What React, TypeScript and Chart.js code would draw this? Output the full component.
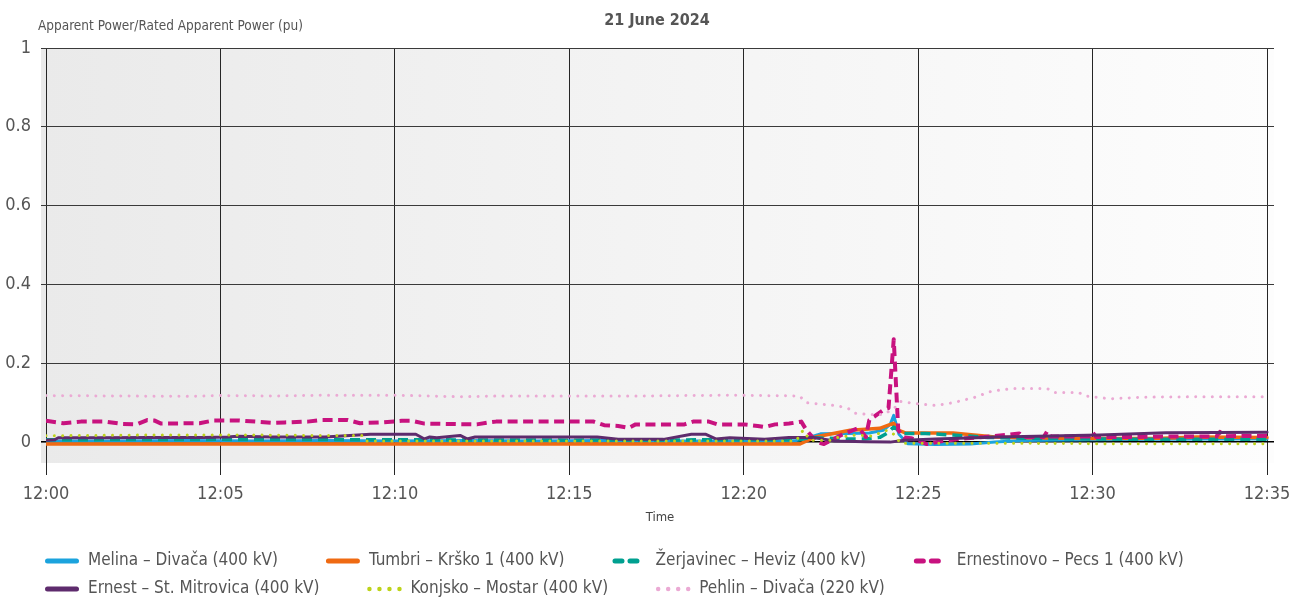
import React, { useEffect, useRef } from 'react';
import { Chart, registerables } from 'chart.js';

Chart.register(...registerables);

const FONT = "'Liberation Sans Narrow', 'DejaVu Sans Condensed', Roboto, sans-serif";

// ---- texts ----
const chartTitle = '21 June 2024';
const yAxisTitle = 'Apparent Power/Rated Apparent Power (pu)';
const xAxisTitle = 'Time';
const seriesNames = [
  'Melina – Divača (400 kV)',
  'Tumbri – Krško 1 (400 kV)',
  'Žerjavinec – Heviz (400 kV)',
  'Ernestinovo – Pecs 1 (400 kV)',
  'Ernest – St. Mitrovica (400 kV)',
  'Konjsko – Mostar (400 kV)',
  'Pehlin – Divača (220 kV)',
];

// ---- ticks (minutes after 12:00, pu) ----
const xTickMinutes = [0, 5, 10, 15, 20, 25, 30, 35];
const yTickValues = [0, 0.2, 0.4, 0.6, 0.8, 1];

// ---- series data: [minutes after 12:00, pu] ----
const melina = [
  [0, 0.003], [2, 0.003], [4, 0.004], [6, 0.003], [8, 0.004], [10, 0.003], [12, 0.004],
  [14, 0.003], [16, 0.004], [18, 0.003], [20, 0.003], [21.5, 0.004], [21.8, 0.01],
  [22.2, 0.021], [23, 0.022], [23.6, 0.023], [24.0, 0.03], [24.2, 0.045], [24.3, 0.068],
  [24.45, 0.02], [24.7, -0.004], [25.5, -0.006], [26.5, -0.005], [27.2, 0.0], [28, 0.004],
  [30, 0.006], [32, 0.007], [34, 0.008], [35, 0.008],
];
const tumbri = [
  [0, -0.005], [5, -0.005], [10, -0.005], [15, -0.005], [20, -0.005], [21.6, -0.005],
  [22.05, 0.013], [23.05, 0.03], [23.6, 0.033], [23.9, 0.035], [24.3, 0.048], [24.45, 0.03],
  [24.65, 0.023], [26.0, 0.023], [26.6, 0.018], [27.2, 0.013], [28, 0.011], [30, 0.009],
  [32, 0.01], [33, 0.013], [35, 0.012],
];
const zerjavinec = [
  [0, 0.006], [5, 0.007], [10, 0.006], [15, 0.005], [20, 0.006], [21.6, 0.006], [21.9, 0.012],
  [22.3, 0.01], [23.0, 0.008], [23.5, 0.008], [23.9, 0.012], [24.1, 0.022], [24.3, 0.038],
  [24.6, 0.022], [25.2, 0.022], [26.0, 0.018], [27.0, 0.012], [28, 0.01], [30, 0.008],
  [32, 0.007], [35, 0.007],
];
const ernestinovo = [
  [0, 0.054], [0.5, 0.048], [1.0, 0.052], [1.7, 0.052], [2.2, 0.046], [2.6, 0.045],
  [2.9, 0.056], [3.1, 0.055], [3.3, 0.047], [4.4, 0.048], [4.8, 0.055], [5.5, 0.055],
  [6.0, 0.052], [6.5, 0.049], [6.85, 0.05], [7.5, 0.052], [7.9, 0.056], [8.65, 0.056],
  [9.0, 0.048], [9.6, 0.05], [10.2, 0.054], [10.5, 0.054], [10.85, 0.047], [12.35, 0.045],
  [12.7, 0.05], [12.9, 0.052], [15.7, 0.052], [16.0, 0.043], [16.4, 0.041], [16.7, 0.036],
  [16.9, 0.045], [18.3, 0.045], [18.55, 0.052], [19.0, 0.052], [19.25, 0.045], [20.0, 0.045],
  [20.4, 0.041], [20.6, 0.038], [20.9, 0.045], [21.3, 0.047], [21.65, 0.052], [21.8, 0.03],
  [22.1, 0.0], [22.3, -0.005], [22.8, 0.018], [23.3, 0.036], [23.5, 0.013], [23.6, 0.056],
  [24.0, 0.081], [24.15, 0.086], [24.3, 0.261], [24.43, 0.03], [24.6, 0.012], [24.8, 0.01],
  [25.25, -0.005], [25.7, 0.003], [26.4, 0.01], [26.9, 0.013], [27.5, 0.018], [27.9, 0.022],
  [28.0, 0.013], [28.6, 0.013], [28.7, 0.028], [28.8, 0.014], [29.9, 0.014], [30.0, 0.025],
  [30.1, 0.013], [31.0, 0.013], [32.0, 0.014], [33.55, 0.014], [33.65, 0.026], [33.75, 0.015],
  [35, 0.016],
];
const ernest = [
  [0, 0.005], [0.25, 0.006], [0.35, 0.011], [1.5, 0.011], [3, 0.012], [4.5, 0.012],
  [5.2, 0.013], [5.5, 0.015], [6.5, 0.013], [8, 0.013], [9.3, 0.02], [10.6, 0.02],
  [10.85, 0.008], [11.0, 0.013], [11.2, 0.011], [11.87, 0.017], [12.07, 0.008], [12.3, 0.013],
  [14.2, 0.013], [15.8, 0.013], [16.4, 0.007], [17.7, 0.007], [18.5, 0.02], [18.9, 0.02],
  [19.2, 0.008], [19.6, 0.011], [20.6, 0.007], [21.3, 0.012], [22.0, 0.012], [22.6, 0.003],
  [23.5, 0.001], [24.2, 0.0], [24.6, 0.005], [25.5, 0.008], [27.3, 0.013], [30.2, 0.018],
  [32.1, 0.024], [35, 0.025],
];
const konjsko = [
  [0, 0.016], [3, 0.018], [6, 0.018], [7.5, 0.017], [9.1, 0.017], [9.2, 0.003], [12, 0.003],
  [15, 0.003], [18, 0.003], [21.5, 0.003], [21.7, 0.03], [21.9, 0.005], [22.5, 0.005],
  [22.7, 0.012], [23.2, 0.018], [23.7, 0.015], [23.9, 0.023], [24.1, 0.03], [24.3, 0.02],
  [24.5, -0.003], [26, -0.003], [28, -0.003], [30, -0.004], [32, -0.004], [35, -0.004],
];
const pehlin = [
  [0, 0.118], [2, 0.117], [4, 0.116], [5, 0.118], [6.5, 0.117], [8, 0.119], [10, 0.119],
  [11.9, 0.115], [13, 0.117], [15, 0.117], [17, 0.117], [19.6, 0.119], [21.6, 0.117],
  [21.8, 0.1], [22.7, 0.092], [23.0, 0.085], [23.2, 0.073], [23.6, 0.07], [24.0, 0.07],
  [24.3, 0.085], [24.5, 0.103], [25.0, 0.097], [25.5, 0.093], [26.0, 0.1], [26.6, 0.113],
  [27.1, 0.129], [27.7, 0.136], [28.7, 0.136], [28.9, 0.126], [29.6, 0.126], [29.8, 0.117],
  [30.5, 0.11], [31.5, 0.114], [33, 0.115], [35, 0.115],
];

const seriesData = [melina, tumbri, zerjavinec, ernestinovo, ernest, konjsko, pehlin];

// ---- styles ----
type Style = {
  color: string; width: number; dash: number[]; cap: CanvasLineCap;
  legendDash: number[]; legendWidth: number; dotted: boolean;
};
const styles: Style[] = [
  { color: '#1ba3dd', width: 3, dash: [], cap: 'round', legendDash: [], legendWidth: 5, dotted: false },
  { color: '#ef6a12', width: 3.5, dash: [], cap: 'round', legendDash: [], legendWidth: 5, dotted: false },
  { color: '#00a090', width: 3.5, dash: [10, 6], cap: 'butt', legendDash: [7, 8], legendWidth: 5, dotted: false },
  { color: '#c8127f', width: 4, dash: [10, 5.5], cap: 'butt', legendDash: [7, 8], legendWidth: 5, dotted: false },
  { color: '#5e2b6d', width: 3, dash: [], cap: 'round', legendDash: [], legendWidth: 5, dotted: false },
  { color: '#bdd31a', width: 3, dash: [0.01, 8.3], cap: 'round', legendDash: [0.01, 10], legendWidth: 4.5, dotted: true },
  { color: '#ebaad4', width: 3, dash: [0.01, 8.3], cap: 'round', legendDash: [0.01, 10], legendWidth: 4.5, dotted: true },
];

const TEXT = '#555555';
const TICK_SIZE = 18;
const LEGEND_SIZE = 17;

const backgroundPlugin = {
  id: 'plotBackground',
  beforeDraw(chart: any) {
    const { ctx, chartArea } = chart;
    if (!chartArea) return;
    const left = chartArea.left - 5;
    const g = ctx.createLinearGradient(left, 0, chartArea.right, 0);
    g.addColorStop(0, '#eaeaea');
    g.addColorStop(1, '#fdfdfd');
    ctx.save();
    ctx.fillStyle = g;
    ctx.fillRect(left, chartArea.top, chartArea.right - left, chartArea.bottom - chartArea.top);
    ctx.restore();
  },
};

const textPlugin = {
  id: 'headerTexts',
  afterDraw(chart: any) {
    const { ctx, chartArea } = chart;
    ctx.save();
    ctx.textBaseline = 'middle';
    ctx.fillStyle = TEXT;
    ctx.textAlign = 'left';
    ctx.font = `13.5px ${FONT}`;
    ctx.fillText(yAxisTitle, 38, 26);
    ctx.textAlign = 'center';
    ctx.font = `bold 16px ${FONT}`;
    ctx.fillText(chartTitle, (chartArea.left + chartArea.right) / 2 - 3, 21);
    ctx.restore();
  },
};

const LEGEND_GAP = 48;
const legendPlugin = {
  id: 'lineLegend',
  afterDraw(chart: any) {
    const { ctx } = chart;
    const xs = chart.scales.x;
    const rowY = [xs.bottom + 32, xs.bottom + 60];
    ctx.save();
    ctx.font = `${LEGEND_SIZE}px ${FONT}`;
    ctx.textBaseline = 'middle';
    ctx.textAlign = 'left';
    let x = 45;
    let row = 0;
    chart.data.datasets.forEach((ds: any, i: number) => {
      if (i === 4) { row = 1; x = 45; }
      const st = styles[i];
      const y = rowY[row];
      ctx.beginPath();
      ctx.setLineDash(st.legendDash);
      ctx.lineCap = 'round';
      ctx.lineWidth = st.legendWidth;
      ctx.strokeStyle = st.color;
      if (st.dotted) {
        ctx.moveTo(x + 2, y);
        ctx.lineTo(x + 33, y);
      } else {
        ctx.moveTo(x + 2.5, y);
        ctx.lineTo(x + 31.5, y);
      }
      ctx.stroke();
      ctx.setLineDash([]);
      ctx.fillStyle = TEXT;
      ctx.fillText(ds.label, x + 43, y);
      x += 43 + ctx.measureText(ds.label).width + LEGEND_GAP;
    });
    ctx.restore();
  },
};

export default function App() {
  const ref = useRef<HTMLCanvasElement | null>(null);

  useEffect(() => {
    if (!ref.current) return;
    const datasets = seriesData.map((pts, i) => ({
      label: seriesNames[i],
      data: pts.map(([t, v]) => ({ x: t, y: v })),
      borderColor: styles[i].color,
      backgroundColor: styles[i].color,
      borderWidth: styles[i].width,
      borderDash: styles[i].dash,
      borderCapStyle: styles[i].cap,
      borderJoinStyle: 'round' as const,
      pointRadius: 0,
      tension: 0,
      fill: false,
      order: 7 - i,
    }));

    const chart = new Chart(ref.current, {
      type: 'line',
      data: { datasets },
      options: {
        animation: false,
        responsive: false,
        devicePixelRatio: 1,
        events: [],
        layout: { padding: { left: 0, right: 31, top: 48, bottom: 74 } },
        plugins: {
          legend: { display: false },
          tooltip: { enabled: false },
          title: { display: false },
        },
        scales: {
          x: {
            type: 'linear',
            min: 0,
            max: 35.2,
            afterBuildTicks: (scale: any) => {
              scale.ticks = xTickMinutes.map((v) => ({ value: v }));
            },
            afterFit: (scale: any) => { scale.height = 66; },
            border: { display: false },
            grid: { color: '#262626', lineWidth: 1, tickLength: 12, drawTicks: true },
            ticks: {
              autoSkip: false,
              maxRotation: 0,
              padding: 9,
              color: TEXT,
              font: { family: FONT, size: TICK_SIZE },
              callback: (v: any) => '12:' + String(v).padStart(2, '0'),
            },
            title: {
              display: true,
              text: xAxisTitle,
              color: '#444',
              font: { family: FONT, size: 13 },
              padding: { top: 0, bottom: 4 },
            },
          },
          y: {
            type: 'linear',
            min: -0.053,
            max: 1,
            afterBuildTicks: (scale: any) => {
              scale.ticks = yTickValues.map((v) => ({ value: v }));
            },
            afterFit: (scale: any) => { scale.width = 46; },
            border: { display: false },
            grid: {
              color: (c: any) => (c.tick && c.tick.value === 0 ? '#000000' : '#3a3a3a'),
              lineWidth: (c: any) => (c.tick && c.tick.value === 0 ? 1.6 : 1),
              tickLength: 5,
            },
            ticks: {
              padding: 10,
              color: TEXT,
              font: { family: FONT, size: TICK_SIZE },
              callback: (v: any) => String(Math.round(Number(v) * 10) / 10),
            },
          },
        },
      },
      plugins: [backgroundPlugin, textPlugin, legendPlugin],
    });
    return () => chart.destroy();
  }, []);

  return (
    <div style={{ position: 'absolute', left: 0, top: 0, width: 1305, height: 603, overflow: 'hidden', background: '#ffffff' }}>
      <canvas ref={ref} width={1305} height={603} style={{ display: 'block', width: 1305, height: 603 }} />
    </div>
  );
}
